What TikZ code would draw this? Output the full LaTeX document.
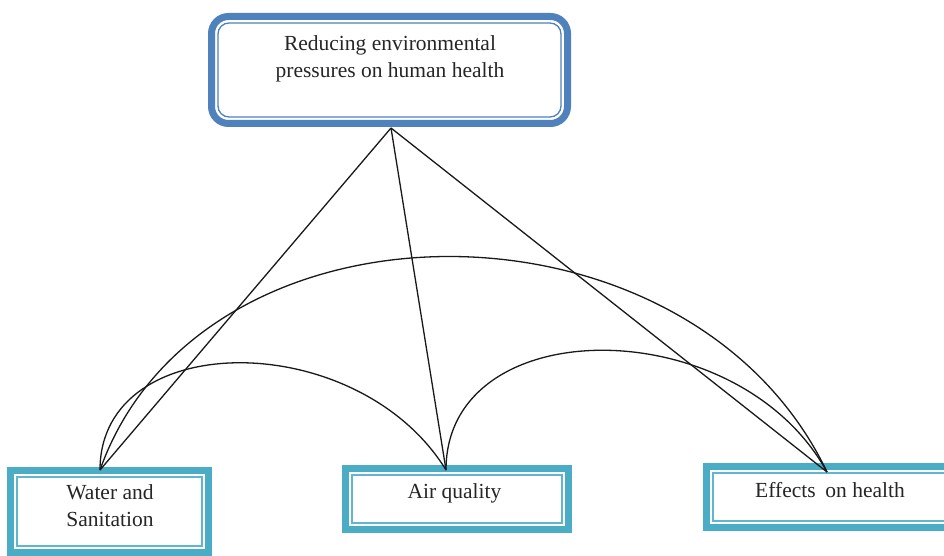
\documentclass[tikz,border=0pt]{standalone}
\usepackage{fontspec}
\setmainfont{Liberation Serif}
\usetikzlibrary{calc}
\definecolor{topblue}{HTML}{4F81BD}
\definecolor{teal}{HTML}{4BACC6}
\definecolor{tealthin}{HTML}{5FB6CE}
\tikzset{
  outerbox/.style={draw=#1, line width=7pt, rectangle, inner sep=0pt, outer sep=0pt, fill=white},
  thinline/.style={draw=#1, line width=1.3pt},
  lbl/.style={font=\fontsize{21.5}{27}\selectfont, align=center, inner sep=0pt, text=black!85},
  link/.style={draw=black!90, line width=1.3pt},
}
\begin{document}
\begin{tikzpicture}[x=1pt,y=1pt]
\clip (0,0) rectangle (944,555);
\fill[white] (0,0) rectangle (944,555);
% boxes
\node[outerbox=topblue, rounded corners=17pt, minimum width=356pt, minimum height=107pt] (top) at (389.5,485) {};
\draw[thinline=topblue, rounded corners=11pt] ($(top.south west)+(6.5,6.5)$) rectangle ($(top.north east)-(6.5,6.5)$);
\node[outerbox=teal, minimum width=198pt, minimum height=82pt] (water) at (109.5,43.5) {};
\draw[thinline=tealthin] ($(water.south west)+(6.5,6.5)$) rectangle ($(water.north east)-(6.5,6.5)$);
\node[outerbox=teal, minimum width=223pt, minimum height=61pt] (air) at (457,56) {};
\draw[thinline=tealthin] ($(air.south west)+(6.5,6.5)$) rectangle ($(air.north east)-(6.5,6.5)$);
\node[outerbox=teal, minimum width=260pt, minimum height=61pt] (effects) at (836.5,58) {};
\draw[thinline=tealthin] ($(effects.south west)+(6.5,6.5)$) rectangle ($(effects.north east)-(6.5,6.5)$);
% labels
\node[lbl] (toptext) at (390,496) {Reducing environmental\\pressures on human health};
\node[lbl] (watertext) at (110,49) {Water and\\Sanitation};
\node[lbl] (airtext) at (454.5,62) {Air quality};
\node[lbl] (efftext) at (830,65) {Effects\hspace{0.45em}on health};
% anchor points
\coordinate (apex) at (391,427);
\coordinate (wa) at (100,85);
\coordinate (aa) at (446,85);
\coordinate (ea) at (827,83);
% connectors
\draw[link] (apex) -- (wa);
\draw[link] (apex) -- (aa);
\draw[link] (apex) -- (ea);
\draw[link] (wa) .. controls (201,370) and (690,370) .. (ea);
\draw[link] (wa) .. controls (100,228) and (358,228) .. (aa);
\draw[link] (aa) .. controls (446,245) and (738,245) .. (ea);
\end{tikzpicture}
\end{document}
